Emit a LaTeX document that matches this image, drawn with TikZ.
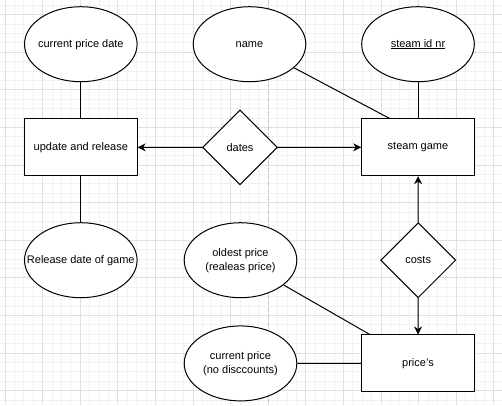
\documentclass[tikz,border=0pt]{standalone}
\usepackage{fontspec}
\setmainfont{Liberation Sans}
\usetikzlibrary{shapes.geometric,arrows.meta,calc}
\definecolor{gridminor}{RGB}{242,242,242}
\definecolor{gridmajor}{RGB}{224,224,224}
\definecolor{pageline}{RGB}{200,200,200}
\begin{document}
\begin{tikzpicture}[x=1pt,y=-1pt,
  every node/.style={font=\fontsize{11}{14}\selectfont, inner sep=0pt, align=center},
  attr/.style={ellipse, draw, line width=1pt, fill=white, inner xsep=-16pt, minimum width=112.6pt, minimum height=75pt},
  entity/.style={rectangle, draw, line width=1pt, fill=white, minimum width=112.6pt, minimum height=56.7pt},
  rel/.style={diamond, draw, line width=1pt, fill=white, minimum width=75pt, minimum height=75pt, aspect=1},
  link/.style={line width=1pt},
  arr/.style={line width=1pt, -{Stealth[length=8pt,width=8pt,inset=2.5pt]}}
]
\useasboundingbox (0,0) rectangle (502,405);
\fill[white] (0,0) rectangle (502,405);
% grid
\foreach \x in {4.9,14.3,...,502} \draw[gridminor, line width=0.8pt] (\x,0) -- (\x,405);
\foreach \y in {5.1,14.5,...,405} \draw[gridminor, line width=0.8pt] (0,\y) -- (502,\y);
\foreach \x in {4.9,42.5,...,502} \draw[gridmajor, line width=0.8pt] (\x,0) -- (\x,405);
\foreach \y in {14.5,52.1,...,405} \draw[gridmajor, line width=0.8pt] (0,\y) -- (502,\y);
\draw[pageline, line width=1pt, dash pattern=on 4pt off 3pt] (268,0) -- (268,405);

% nodes
\node[attr] (cpd) at (80.8,44.2) {current price date};
\node[attr] (name) at (249.5,44.2) {name};
\node[attr] (sid) at (418,44.2) {\underline{steam id nr}};
\node[entity] (upd) at (80.8,147.3) {update and release};
\node[rel] (dates) at (240,147.4) {dates};
\node[entity] (sg) at (418,147.3) {steam game};
\node[attr] (rdg) at (80.8,260.2) {Release date of game};
\node[attr] (old) at (240.5,260.2) {oldest price\\(realeas price)};
\node[rel] (costs) at (418.2,260.2) {costs};
\node[attr] (cur) at (240.5,363.4) {current price\\(no disccounts)};
\node[entity] (pr) at (418,363.3) {price's};

\coordinate (sgq) at ($(sg.north west)!0.25!(sg.north east)$);
\coordinate (prq) at ($(pr.north west)!0.075!(pr.north east)$);

% connectors
\draw[link] (cpd) -- (upd);
\draw[link] (upd) -- (rdg);
\draw[link] (sid) -- (sg);
\draw[link] (name) -- (sgq);
\draw[link] (old) -- (prq);
\draw[link] (cur) -- (pr);
\draw[arr] (dates) -- (upd);
\draw[arr] (dates) -- (sg);
\draw[arr] (costs) -- (sg);
\draw[arr] (costs) -- (pr);
\end{tikzpicture}
\end{document}
